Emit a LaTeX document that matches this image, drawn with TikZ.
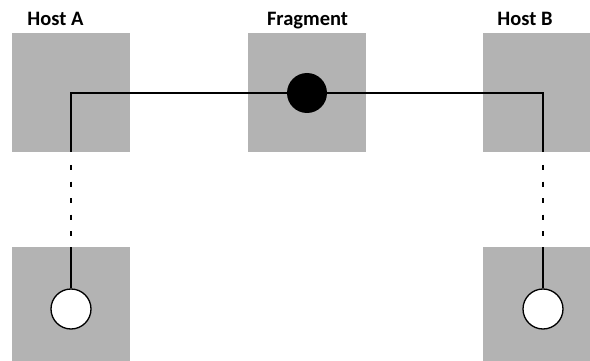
\documentclass[tikz,border=0pt]{standalone}
\usepackage{fontspec}
\setmainfont{Carlito}
\begin{document}
\begin{tikzpicture}[x=1pt,y=-1pt,
  box/.style={fill=boxgray,draw=none,minimum width=118pt,minimum height=119pt,inner sep=0pt,anchor=north west},
  lbl/.style={font=\bfseries\fontsize{20.5}{20.5}\selectfont,anchor=base,inner sep=0pt},
  wire/.style={line width=2pt},
  dots/.style={line width=2pt,dash pattern=on 5pt off 11.5pt},
  hole/.style={circle,draw,line width=1.3pt,fill=white,minimum size=40pt,inner sep=0pt},
  blob/.style={circle,fill=black,minimum size=40pt,inner sep=0pt}]
\definecolor{boxgray}{RGB}{179,179,179}
\useasboundingbox (0,0) rectangle (590,361);
% boxes
\node[box] (ta) at (12,33) {};
\node[box] (tf) at (248,33) {};
\node[box,minimum width=107pt] (tb) at (483,33) {};
\node[box,minimum height=114pt] (ba) at (12,247) {};
\node[box,minimum width=107pt,minimum height=114pt] (bb) at (483,247) {};
% labels
\node[lbl] (la) at (55.5,26) {Host A};
\node[lbl] (lf) at (307.5,26) {Fragment};
\node[lbl] (lb) at (525,26) {Host B};
% corners and line ends
\coordinate (ka) at (71,93);
\coordinate (kb) at (543,93);
\coordinate (ea) at (71,152);
\coordinate (eb) at (543,152);
\coordinate (da1) at (71,165);
\coordinate (da2) at (71,236.5);
\coordinate (db1) at (543,165);
\coordinate (db2) at (543,236.5);
\coordinate (sa) at (71,247);
\coordinate (sb) at (543,247);
% circles
\node[hole] (ca) at (71,309) {};
\node[hole] (cb) at (543,309) {};
% wires
\draw[wire] (ea) -- (ka) -- (kb) -- (eb);
\draw[dots] (da1) -- (da2);
\draw[dots] (db1) -- (db2);
\draw[wire] (sa) -- (ca.north);
\draw[wire] (sb) -- (cb.north);
\node[blob] (fd) at (307,93) {};
\end{tikzpicture}
\end{document}
